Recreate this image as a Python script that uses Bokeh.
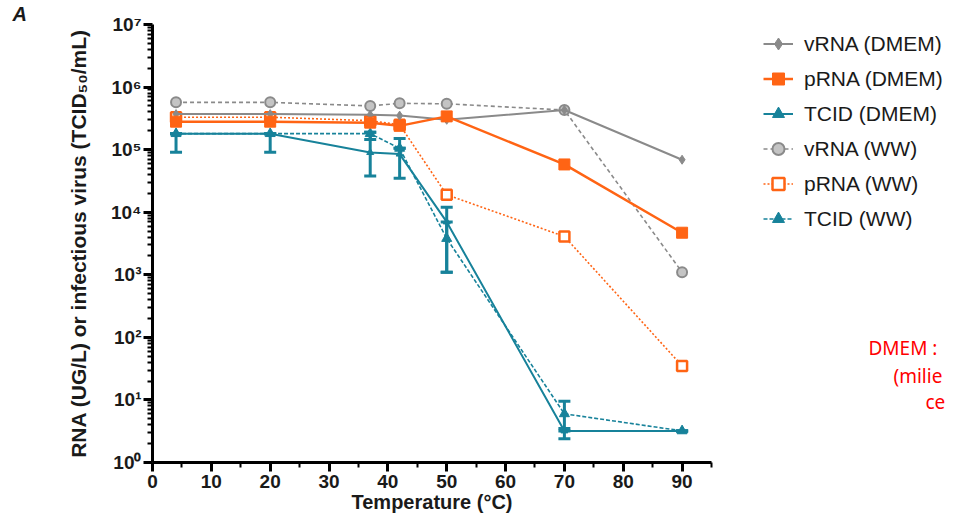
from bokeh.plotting import figure
from bokeh.layouts import row
from bokeh.models import (ColumnDataSource, Range1d, FixedTicker, Whisker, TeeHead,
                          Legend, LegendItem, Label)
from bokeh.embed import file_html
from bokeh.resources import INLINE

# ---------------- data ----------------
temps = [4, 20, 37, 42, 50, 70, 90]

vrna_dmem = [3.7e5, 3.7e5, 3.6e5, 3.5e5, 3.0e5, 4.3e5, 6.9e4]
prna_dmem = [2.8e5, 2.8e5, 2.7e5, 2.4e5, 3.4e5, 5.8e4, 4.7e3]
tcid_dmem = [1.8e5, 1.8e5, 9.0e4, 8.5e4, 7.0e3, 3.2, 3.2]
tcid_dmem_lo = [9.1e4, 9.1e4, 3.8e4, 3.5e4, 1.1e3, 2.4, 3.2]
tcid_dmem_hi = [1.8e5, 1.8e5, 1.9e5, 1.5e5, 1.2e4, 3.2, 3.2]

vrna_ww = [5.7e5, 5.7e5, 5.0e5, 5.5e5, 5.4e5, 4.3e5, 1.1e3]
prna_ww = [3.3e5, 3.3e5, 2.9e5, 2.5e5, 1.9e4, 4.1e3, 35]
tcid_ww = [1.8e5, 1.8e5, 1.8e5, 1.05e5, 3.8e3, 6.0, 3.2]
tcid_ww_lo = [1.8e5, 1.8e5, 1.45e5, 1.05e5, 1.1e3, 3.5, 3.2]
tcid_ww_hi = [1.8e5, 1.8e5, 1.9e5, 1.05e5, 7.0e3, 9.5, 3.2]

series_labels = ["vRNA (DMEM)", "pRNA (DMEM)", "TCID (DMEM)",
                 "vRNA (WW)", "pRNA (WW)", "TCID (WW)"]

x_ticks = [0, 10, 20, 30, 40, 50, 60, 70, 80, 90]
y_ticks = [1, 10, 100, 1e3, 1e4, 1e5, 1e6, 1e7]
y_tick_labels = ["10⁰", "10¹", "10²", "10³", "10⁴", "10⁵", "10⁶", "10⁷"]

x_title = "Temperature (°C)"
y_title = "RNA (UG/L) or infectious virus (TCID₅₀/mL)"
panel_letter = "A"
note_lines = ["DMEM :", "(milie", "ce"]

# ---------------- styles ----------------
GRAY = "#8a8a8a"
ORANGE = "#ff6414"
TEAL = "#17829a"
FONT = "Liberation Sans"
INK = "#1a1a1a"

p = figure(width=716, height=516, output_backend="svg", toolbar_location=None,
           x_range=Range1d(0, 95), y_range=Range1d(1, 1e7), y_axis_type="log",
           min_border_left=152, min_border_right=5, min_border_top=24,
           min_border_bottom=54)
p.outline_line_color = None
p.xgrid.visible = False
p.ygrid.visible = False
p.background_fill_color = "white"
p.border_fill_color = "white"

p.title.text = panel_letter
p.title.align = "left"
p.title.offset = -140
p.title.standoff = 0
p.title.text_font = FONT
p.title.text_font_style = "bold italic"
p.title.text_font_size = "20px"
p.title.text_color = INK

x_minor = [t + 5 for t in x_ticks]
y_minor = [m * t for t in y_ticks[:-1] for m in range(2, 10)]
p.xaxis.ticker = FixedTicker(ticks=x_ticks, minor_ticks=x_minor)
p.yaxis.ticker = FixedTicker(ticks=y_ticks, minor_ticks=y_minor)
p.yaxis.major_label_overrides = {t: l for t, l in zip(y_ticks, y_tick_labels)}

for ax in (p.xaxis, p.yaxis):
    ax.axis_line_width = 3
    ax.axis_line_color = "black"
    ax.major_tick_line_width = 3
    ax.minor_tick_line_width = 2
    ax.major_tick_in = 0
    ax.minor_tick_in = 0
    ax.major_label_text_font = FONT
    ax.major_label_text_font_style = "bold"
    ax.major_label_text_font_size = "19px"
    ax.major_label_text_color = INK
    ax.axis_label_text_font = FONT
    ax.axis_label_text_font_style = "bold"
    ax.axis_label_text_color = INK

p.xaxis.major_tick_out = 9
p.xaxis.minor_tick_out = 5
p.xaxis.major_label_standoff = 3
p.xaxis.axis_label = x_title
p.xaxis.axis_label_text_font_size = "20px"
p.xaxis.axis_label_standoff = 0

p.yaxis.major_tick_out = 9
p.yaxis.minor_tick_out = 5
p.yaxis.major_label_standoff = 2
p.yaxis.axis_label = y_title
p.yaxis.axis_label_text_font_size = "21px"
p.yaxis.axis_label_standoff = 18

# ---------------- series ----------------
def src(vals, lo=None, hi=None):
    d = dict(x=temps, y=vals)
    if lo is not None:
        d["lo"] = lo
        d["hi"] = hi
    return ColumnDataSource(d)

styles = [
    # (source, line kwargs, marker kwargs)
    (src(vrna_dmem), dict(line_color=GRAY, line_width=2),
     dict(marker="diamond", size=9, fill_color=GRAY, line_color=GRAY)),
    (src(prna_dmem), dict(line_color=ORANGE, line_width=2.5),
     dict(marker="square", size=11, fill_color=ORANGE, line_color=ORANGE)),
    (src(tcid_dmem, tcid_dmem_lo, tcid_dmem_hi), dict(line_color=TEAL, line_width=2),
     dict(marker="triangle", size=7, fill_color=TEAL, line_color=TEAL)),
    (src(vrna_ww), dict(line_color=GRAY, line_width=1.6, line_dash="4 3"),
     dict(marker="circle", size=10, fill_color="#c4c4c4", line_color=GRAY, line_width=2)),
    (src(prna_ww), dict(line_color=ORANGE, line_width=1.6, line_dash="2 2"),
     dict(marker="square", size=10, fill_color="white", line_color=ORANGE, line_width=2.5)),
    (src(tcid_ww, tcid_ww_lo, tcid_ww_hi), dict(line_color=TEAL, line_width=1.6, line_dash="4 2"),
     dict(marker="triangle", size=10, fill_color=TEAL, line_color=TEAL)),
]

draw_order = [3, 4, 5, 0, 1, 2]   # dashed WW series underneath
for i in draw_order:
    s, lk, mk = styles[i]
    if "lo" in s.data:
        head = dict(size=12, line_color=TEAL, line_width=3)
        p.add_layout(Whisker(base="x", lower="lo", upper="hi", source=s,
                             line_color=TEAL, line_width=3,
                             lower_head=TeeHead(**head), upper_head=TeeHead(**head)))
    p.line("x", "y", source=s, **lk)
    p.scatter("x", "y", source=s, **mk)

# ---------------- side panel: legend + note ----------------
side = figure(width=229, height=516, output_backend="svg", toolbar_location=None,
              x_range=Range1d(0, 1), y_range=Range1d(0, 1),
              x_axis_location=None, y_axis_location=None, min_border=0)
side.outline_line_color = None
side.xgrid.visible = False
side.ygrid.visible = False
side.border_fill_color = "white"

items = []
for i, lab in enumerate(series_labels):
    s, lk, mk = styles[i]
    # hidden twins of the main renderers, used only to draw the legend swatches
    l = side.line("x", "y", source=s, visible=False, **lk)
    m = side.scatter("x", "y", source=s, visible=False, **mk)
    items.append(LegendItem(label=lab, renderers=[l, m]))

legend = Legend(items=items, location=(47, 226), orientation="vertical",
                padding=0, margin=0, spacing=0, border_line_color=None,
                background_fill_alpha=0, glyph_width=30, glyph_height=35,
                label_height=35, label_standoff=11,
                label_text_font=FONT, label_text_font_size="21px",
                label_text_color=INK)
side.add_layout(legend)

for txt, lx, ly in zip(note_lines, [152, 177, 209], [115, 87, 61]):
    side.add_layout(Label(x=lx, y=ly, x_units="screen", y_units="screen", text=txt,
                          text_font="Noto Sans", text_font_size="19px",
                          text_baseline="middle", text_color="#ff0000"))

layout = row(p, side, spacing=0)
open("out.html", "w").write(file_html(layout, INLINE))
